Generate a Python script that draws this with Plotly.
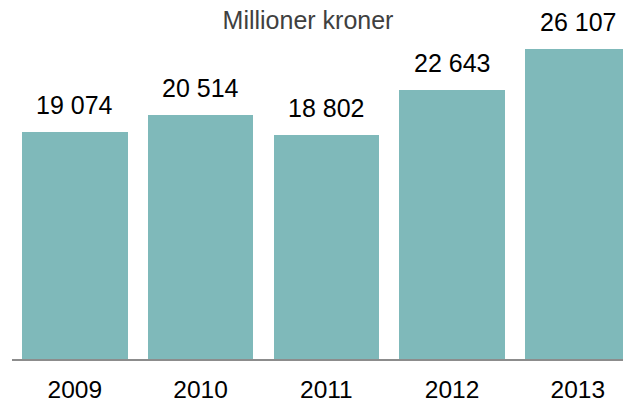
import plotly.graph_objects as go

years = ["2009", "2010", "2011", "2012", "2013"]
values = [19074, 20514, 18802, 22643, 26107]
value_labels = ["19 074", "20 514", "18 802", "22 643", "26 107"]
subtitle = "Millioner kroner"

FONT = "Liberation Sans, Arial, sans-serif"

fig = go.Figure()
fig.add_trace(go.Bar(
    x=years, y=values, marker_color="#7FB9BA", width=0.839,
    marker_line_width=0, hoverinfo="skip"))

for i, (v, lab) in enumerate(zip(values, value_labels)):
    fig.add_annotation(x=i, y=v, xref="x", yref="y", text=lab, showarrow=False,
                       yanchor="bottom", yshift=11,
                       font=dict(size=25, color="#000000", family=FONT))

fig.update_layout(
    width=623, height=401,
    margin=dict(l=12, r=0, t=0, b=42, autoexpand=False),
    paper_bgcolor="white", plot_bgcolor="white",
    showlegend=False,
    bargap=0,
    hovermode=False,
    title=dict(text=subtitle, x=0.4944, xanchor="center", y=0.9486, yanchor="middle",
               font=dict(size=25, color="#404040", family=FONT)),
    xaxis=dict(type="category", range=[-0.5, 4.359], showgrid=False,
               showline=True, linecolor="#8c8c8c", linewidth=2,
               ticks="outside", ticklen=8, tickcolor="rgba(0,0,0,0)",
               automargin=False,
               tickfont=dict(size=24.5, color="#000000", family=FONT)),
    yaxis=dict(range=[0, 30194], showticklabels=False, showline=False, ticks="",
               showgrid=False, zeroline=False, automargin=False),
)

fig.write_html("out.html", config={"displayModeBar": False},
               post_script="document.body.style.margin='0';")
